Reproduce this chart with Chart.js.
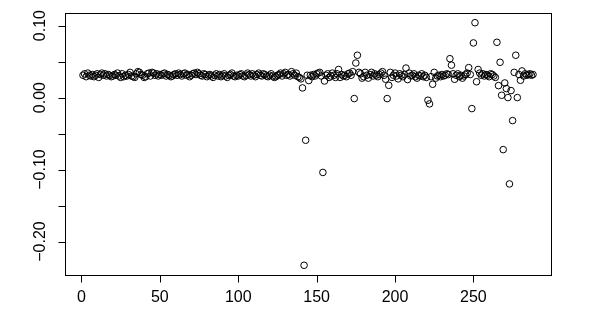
<!DOCTYPE html>
<html>
<head>
<meta charset="utf-8">
<script src="https://cdn.jsdelivr.net/npm/chart.js@4/dist/chart.umd.min.js"></script>
<style>
  html, body { margin: 0; padding: 0; background: #fff; }
  #plot { display: block; }
</style>
</head>
<body>
<canvas id="plot" width="598" height="309"></canvas>
<script>
// series values, index 1..288
const values = [
  0.031, 0.033, 0.029, 0.034, 0.031, 0.030, 0.032, 0.029, 0.031, 0.033,
  0.028, 0.032, 0.034, 0.031, 0.033, 0.030, 0.032, 0.031, 0.029, 0.030,
  0.032, 0.031, 0.034, 0.030, 0.028, 0.033, 0.029, 0.031, 0.030, 0.032,
  0.035, 0.030, 0.029, 0.028, 0.033, 0.036, 0.035, 0.032, 0.031, 0.028,
  0.029, 0.033, 0.034, 0.030, 0.035, 0.034, 0.031, 0.033, 0.030, 0.032,
  0.031, 0.033, 0.034, 0.030, 0.032, 0.031, 0.029, 0.030, 0.032, 0.033,
  0.031, 0.034, 0.032, 0.030, 0.033, 0.034, 0.031, 0.032, 0.029, 0.031,
  0.033, 0.034, 0.032, 0.035, 0.033, 0.031, 0.030, 0.033, 0.032, 0.029,
  0.031, 0.032, 0.030, 0.028, 0.031, 0.033, 0.030, 0.032, 0.029, 0.031,
  0.033, 0.030, 0.028, 0.031, 0.032, 0.034, 0.030, 0.029, 0.031, 0.030,
  0.032, 0.033, 0.030, 0.029, 0.031, 0.034, 0.032, 0.030, 0.033, 0.031,
  0.029, 0.032, 0.034, 0.031, 0.030, 0.033, 0.032, 0.030, 0.029, 0.031,
  0.033, 0.030, 0.028, 0.029, 0.031, 0.032, 0.034, 0.030, 0.033, 0.035,
  0.031, 0.032, 0.030, 0.036, 0.033, 0.031, 0.034, 0.029, 0.028, 0.026,
  0.0134, -0.233, -0.0593, 0.031, 0.0236, 0.031, 0.029, 0.032, 0.030, 0.033,
  0.034, 0.035, 0.030, -0.104, 0.023, 0.031, 0.033, 0.028, 0.030, 0.034,
  0.031, 0.028, 0.033, 0.039, 0.028, 0.032, 0.030, 0.031, 0.029, 0.033,
  0.034, 0.031, 0.036, -0.0014, 0.048, 0.0588, 0.035, 0.033, 0.027, 0.029,
  0.035, 0.031, 0.027, 0.032, 0.035, 0.030, 0.033, 0.031, 0.029, 0.032,
  0.034, 0.036, 0.031, 0.0255, -0.0014, 0.017, 0.035, 0.028, 0.031, 0.034,
  0.030, 0.026, 0.033, 0.031, 0.029, 0.032, 0.041, 0.025, 0.034, 0.030,
  0.031, 0.033, 0.029, 0.027, 0.031, 0.030, 0.033, 0.029, 0.031, 0.028,
  -0.0037, -0.0088, 0.029, 0.0185, 0.035, 0.027, 0.030, 0.031, 0.029, 0.032,
  0.030, 0.031, 0.033, 0.032, 0.054, 0.045, 0.033, 0.0254, 0.031, 0.033,
  0.029, 0.031, 0.027, 0.030, 0.032, 0.034, 0.0416, 0.032, -0.0153, 0.0759,
  0.104, 0.022, 0.039, 0.034, 0.031, 0.033, 0.030, 0.032, 0.031, 0.029,
  0.033, 0.032, 0.030, 0.028, 0.0768, 0.0166, 0.049, 0.0032, -0.0723, 0.0203,
  0.0125, 0.0, -0.120, 0.0097, -0.032, 0.035, 0.0588, 0.0, 0.032, 0.024,
  0.037, 0.030, 0.033, 0.031, 0.032, 0.033, 0.031, 0.032
];

// axis ticks, R style
const xTicks = [0, 50, 100, 150, 200, 250];
const xLabels = ["0", "50", "100", "150", "200", "250"];
const yTicks = [-0.20, -0.15, -0.10, -0.05, 0.00, 0.05, 0.10];
const yLabels = ["\u22120.20", "", "\u22120.10", "", "0.00", "", "0.10"];

const points = values.map((v, i) => ({ x: i + 1, y: v }));

// R extends the data range by 4% on each side
const xMinData = 1, xMaxData = values.length;
const yMinData = Math.min(...values), yMaxData = Math.max(...values);
const xPad = (xMaxData - xMinData) * 0.04;
const yPad = (yMaxData - yMinData) * 0.04;

const FONT = '16px "Liberation Sans", Arial, sans-serif';

// box, ticks and labels drawn from the chart's scales
const rAxes = {
    id: "rAxes",
    afterDraw(chart) {
        const ctx = chart.ctx;
        const a = chart.chartArea;
        const xs = chart.scales.x, ys = chart.scales.y;
        ctx.save();
        ctx.strokeStyle = "#000";
        ctx.lineWidth = 1;
        ctx.strokeRect(Math.round(a.left) + 0.5, Math.round(a.top) + 0.5,
            Math.round(a.right - a.left), Math.round(a.bottom - a.top));

        ctx.fillStyle = "#000";
        ctx.font = FONT;

        // x axis
        const yb = Math.round(a.bottom) + 0.5;
        ctx.beginPath();
        ctx.moveTo(Math.round(xs.getPixelForValue(xTicks[0])) + 0.5, yb);
        ctx.lineTo(Math.round(xs.getPixelForValue(xTicks[xTicks.length - 1])) + 0.5, yb);
        xTicks.forEach((t) => {
            const px = Math.round(xs.getPixelForValue(t)) + 0.5;
            ctx.moveTo(px, yb);
            ctx.lineTo(px, yb + 7);
        });
        ctx.stroke();
        ctx.textAlign = "center";
        ctx.textBaseline = "middle";
        xTicks.forEach((t, i) => {
            ctx.fillText(xLabels[i], xs.getPixelForValue(t), a.bottom + 23);
        });

        // y axis
        const xl = Math.round(a.left) + 0.5;
        ctx.beginPath();
        ctx.moveTo(xl, Math.round(ys.getPixelForValue(yTicks[0])) + 0.5);
        ctx.lineTo(xl, Math.round(ys.getPixelForValue(yTicks[yTicks.length - 1])) + 0.5);
        yTicks.forEach((t) => {
            const py = Math.round(ys.getPixelForValue(t)) + 0.5;
            ctx.moveTo(xl, py);
            ctx.lineTo(xl - 7, py);
        });
        ctx.stroke();
        yTicks.forEach((t, i) => {
            if (!yLabels[i]) return;
            ctx.save();
            ctx.translate(a.left - 24, ys.getPixelForValue(t));
            ctx.rotate(-Math.PI / 2);
            ctx.fillText(yLabels[i], 0, 0);
            ctx.restore();
        });
        ctx.restore();
    }
};

new Chart(document.getElementById("plot").getContext("2d"), {
    type: "scatter",
    data: {
        datasets: [{
            data: points,
            pointStyle: "circle",
            pointRadius: 3.3,
            pointBorderWidth: 1,
            pointBorderColor: "#000",
            pointBackgroundColor: "rgba(0,0,0,0)"
        }]
    },
    options: {
        responsive: false,
        animation: false,
        events: [],
        layout: { padding: { left: 65, right: 47, top: 13, bottom: 34 } },
        plugins: {
            legend: { display: false },
            tooltip: { enabled: false }
        },
        scales: {
            x: {
                type: "linear",
                display: false,
                min: xMinData - xPad,
                max: xMaxData + xPad
            },
            y: {
                type: "linear",
                display: false,
                min: yMinData - yPad,
                max: yMaxData + yPad
            }
        }
    },
    plugins: [rAxes]
});
</script>
</body>
</html>
